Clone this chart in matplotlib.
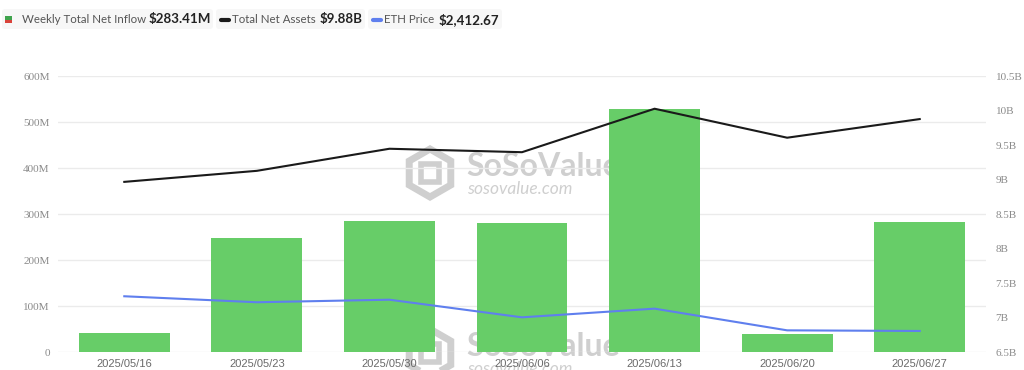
import matplotlib
matplotlib.use("Agg")
import matplotlib.pyplot as plt
from matplotlib.patches import FancyBboxPatch, Rectangle, RegularPolygon

# data
dates = ["2025/05/16", "2025/05/23", "2025/05/30", "2025/06/06",
         "2025/06/13", "2025/06/20", "2025/06/27"]
net_inflow_m = [41.3, 248.5, 285.4, 281.0, 528.0, 39.8, 283.41]
net_assets_b = [8.97, 9.13, 9.45, 9.40, 10.03, 9.61, 9.88]
eth_price = [2540.7, 2518.6, 2528.0, 2463.0, 2495.0, 2415.0, 2412.67]

left_ticks = [0, 100, 200, 300, 400, 500, 600]
left_labels = ["0", "100M", "200M", "300M", "400M", "500M", "600M"]
right_ticks = [6.5, 7, 7.5, 8, 8.5, 9, 9.5, 10, 10.5]
right_labels = ["6.5B", "7B", "7.5B", "8B", "8.5B", "9B", "9.5B", "10B", "10.5B"]

GREEN = "#67cd68"
BLACK = "#1a1a1a"
BLUE = "#5f7fee"
GRID = "#ebebeb"
TICK = "#8a8a8a"
WM = "#cfcfcf"

fig = plt.figure(figsize=(10.24, 3.70), dpi=100)
fig.patch.set_facecolor("white")

# overlay in pixel coordinates for legend + watermark
ov = fig.add_axes([0, 0, 1, 1], zorder=0)
ov.set_xlim(0, 1024)
ov.set_ylim(370, 0)
ov.axis("off")

# watermarks (behind the bars)
for dy in (0, 180):
    ov.add_patch(RegularPolygon((430, 173 + dy), 6, radius=24, orientation=0,
                                facecolor="none", edgecolor=WM, lw=5))
    ov.add_patch(Rectangle((421, 164 + dy), 18, 18, facecolor="none",
                           edgecolor=WM, lw=4))
    ov.text(466, 167 + dy, "SoSoValue", family="Lato", weight="bold",
            fontsize=23, color=WM, va="center", ha="left")
    ov.text(467, 189 + dy, "sosovalue.com", family="Lato", style="italic",
            fontsize=12.5, color=WM, va="center", ha="left")

ax = fig.add_axes([58 / 1024, 17.7 / 370, 928 / 1024, 276 / 370], zorder=1)
ax.patch.set_alpha(0)
x = list(range(len(dates)))
ax.bar(x, net_inflow_m, width=0.686, color=GREEN, zorder=2)
ax.set_xlim(-0.5, len(dates) - 0.5)
ax.set_ylim(0, 600)
ax.set_yticks(left_ticks)
ax.set_yticklabels(left_labels, family="Liberation Serif", fontsize=8, color=TICK)
ax.set_xticks(x)
ax.set_xticklabels(dates, family="Liberation Sans", fontsize=8, color="#6a6a6a")
ax.tick_params(axis="both", length=0)
ax.tick_params(axis="y", pad=6)
ax.tick_params(axis="x", pad=5)
ax.grid(axis="y", color=GRID, lw=1, zorder=0)
ax.set_axisbelow(True)
for s in ax.spines.values():
    s.set_visible(False)

ax2 = ax.twinx()
ax2.plot(x, net_assets_b, color=BLACK, lw=1.5, zorder=3)
ax2.set_ylim(6.5, 10.5)
ax2.set_yticks(right_ticks)
ax2.set_yticklabels(right_labels, family="Liberation Serif", fontsize=8, color=TICK)
ax2.tick_params(axis="y", length=0, pad=7)
for s in ax2.spines.values():
    s.set_visible(False)

ax3 = ax.twinx()
ax3.plot(x, eth_price, color=BLUE, lw=1.5, zorder=3)
ax3.set_ylim(2334, 3352)
ax3.axis("off")

# legend across the top
lg = fig.add_axes([0, 0, 1, 1], zorder=5)
lg.set_xlim(0, 1024)
lg.set_ylim(370, 0)
lg.axis("off")
for x0, x1 in [(2, 213), (216, 365), (368, 502)]:
    lg.add_patch(FancyBboxPatch((x0, 9), x1 - x0, 20, boxstyle="round,pad=0,rounding_size=3",
                                facecolor="#f7f7f7", edgecolor="none"))
lg.add_patch(Rectangle((5, 16), 7, 3.5, facecolor="#3fa34d", edgecolor="none"))
lg.add_patch(Rectangle((5, 19.5), 7, 3.5, facecolor="#d9433a", edgecolor="none"))
lg.plot([220.5, 228.5], [19.5, 19.5], color=BLACK, lw=3, solid_capstyle="round")
lg.plot([372.5, 380.5], [19.5, 19.5], color=BLUE, lw=3, solid_capstyle="round")

lab_kw = dict(family="Lato", fontsize=8.3, color="#555555", va="center", ha="left")
val_kw = dict(family="Lato", fontsize=9.6, weight="bold", color="#222222", va="center", ha="left")
lg.text(21.5, 19.5, "Weekly Total Net Inflow", **lab_kw)
lg.text(149, 19.5, "$283.41M", **val_kw)
lg.text(232.5, 19.5, "Total Net Assets", **lab_kw)
lg.text(320, 19.5, "$9.88B", **val_kw)
lg.text(384, 19.5, "ETH Price", **lab_kw)
lg.text(439, 19.5, "$2,412.67", **val_kw)

fig.savefig("out.png", dpi=100)
